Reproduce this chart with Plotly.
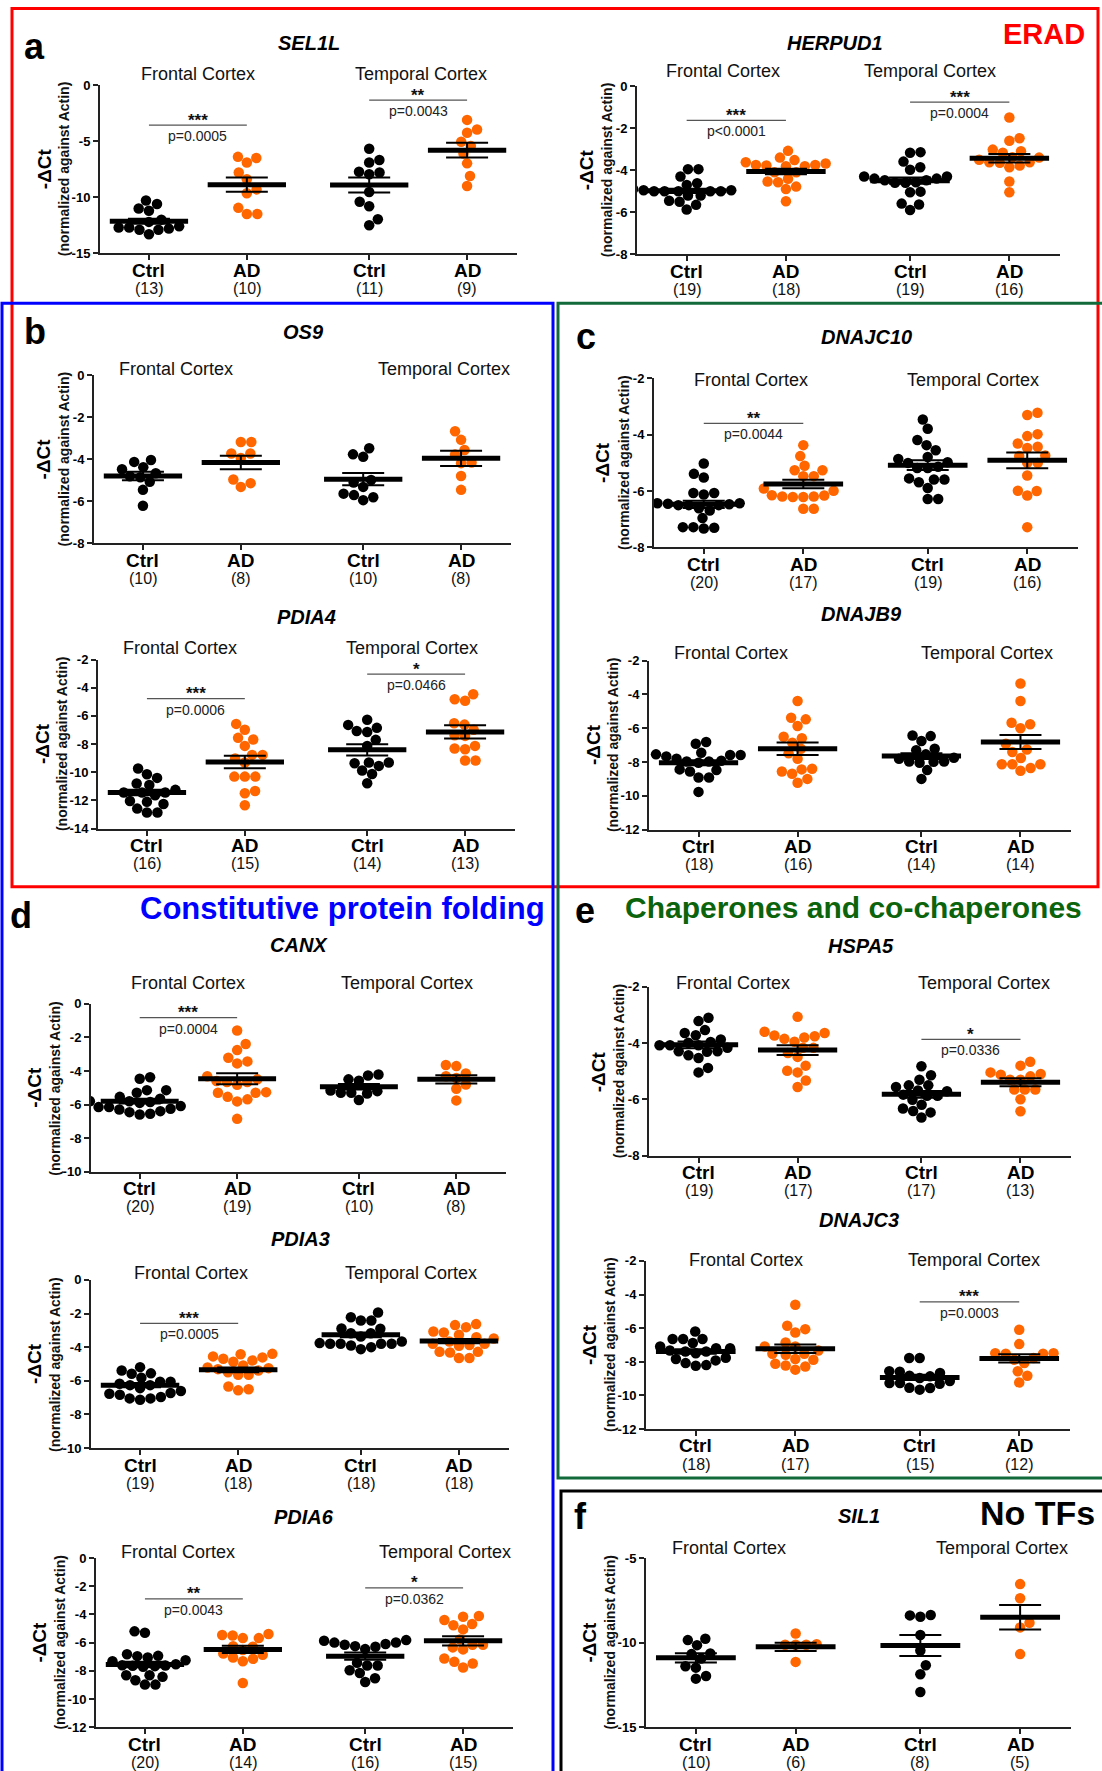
import plotly.graph_objects as go

W, H = 1102, 1771          # target picture size
PAGE_H = 1790              # figure height on the page
Y_OFF, Y_SCALE = 7.9, 0.991  # measured vertical mapping page -> picture
FONT = "Liberation Sans, Arial, Helvetica, sans-serif"

CATEGORIES = ["Ctrl", "AD", "Ctrl", "AD"]
REGIONS = ["Frontal Cortex", "Temporal Cortex"]
CAT_X = [0.0, 1.0, 2.25, 3.25]
X_RANGE = [-0.5, 3.76]
GROUP_COLORS = ["#000000", "#FF6600", "#000000", "#FF6600"]

# ---------------- data (-dCt values) ----------------
SEL1L_CTRL_FC = [-10.3, -10.6, -11.0, -11.2, -12.0, -12.2, -12.6, -12.7, -12.8, -12.9, -12.9, -12.7, -13.3]
SEL1L_AD_FC = [-6.4, -6.5, -6.9, -7.8, -8.4, -9.3, -9.65, -10.95, -11.5, -11.5]
SEL1L_CTRL_TC = [-5.67, -6.68, -6.9, -7.72, -7.8, -7.95, -9.53, -10.4, -10.8, -11.97, -12.5]
SEL1L_AD_TC = [-3.1, -3.95, -4.25, -5.05, -5.43, -6.1, -6.98, -8.1, -9.0]
SEL1L_MEAN = [-12.15, -8.88, -8.9, -5.8]
SEL1L_SEM = [0.22, 0.63, 0.67, 0.65]

HERPUD1_CTRL_FC = [-3.95, -3.95, -4.3, -4.62, -4.7, -4.95, -5.0, -5.0, -5.0, -5.0, -5.0, -4.95, -4.9, -5.2, -5.2, -5.5, -5.45, -5.65, -5.87]
HERPUD1_AD_FC = [-3.08, -3.52, -3.4, -3.75, -3.81, -3.78, -3.62, -3.81, -3.75, -3.68, -4.54, -4.78, -4.9, -4.57, -4.41, -5.48, -4.1, -4.1]
HERPUD1_CTRL_TC = [-3.17, -3.14, -3.59, -3.86, -3.98, -4.3, -4.4, -4.48, -4.48, -4.4, -4.3, -4.57, -4.6, -4.6, -5.05, -5.02, -5.59, -5.63, -5.89]
HERPUD1_AD_TC = [-1.49, -2.6, -2.48, -3.1, -3.02, -3.17, -3.38, -3.62, -3.78, -3.86, -3.65, -3.62, -3.4, -4.54, -5.05, -3.5]
HERPUD1_MEAN = [-4.98, -4.06, -4.5, -3.43]
HERPUD1_SEM = [0.1, 0.13, 0.15, 0.2]

OS9_CTRL_FC = [-4.03, -4.12, -4.37, -4.47, -4.66, -4.8, -4.85, -5.07, -5.45, -6.21]
OS9_AD_FC = [-3.17, -3.17, -3.72, -3.72, -3.93, -4.96, -5.13, -5.31]
OS9_CTRL_TC = [-3.47, -3.76, -3.88, -4.98, -5.1, -5.31, -5.63, -5.7, -5.8, -5.94]
OS9_AD_TC = [-2.66, -3.07, -3.55, -3.77, -4.15, -4.18, -4.79, -5.45]
OS9_MEAN = [-4.79, -4.15, -4.94, -3.95]
OS9_SEM = [0.2, 0.32, 0.29, 0.36]

DNAJC10_CTRL_FC = [-5.02, -5.39, -5.52, -6.07, -6.07, -6.12, -6.43, -6.43, -6.45, -6.47, -6.5, -6.5, -6.5, -6.61, -6.69, -6.96, -7.28, -7.28, -7.3, -7.33]
DNAJC10_AD_FC = [-4.37, -4.76, -5.1, -5.26, -5.26, -5.47, -5.47, -5.91, -5.99, -6.15, -6.16, -6.19, -6.19, -6.21, -6.21, -6.63, -6.63]
DNAJC10_CTRL_TC = [-3.46, -3.79, -4.19, -4.37, -4.55, -4.79, -4.86, -4.98, -5.0, -5.14, -5.18, -5.18, -5.55, -5.59, -5.59, -5.69, -5.89, -6.28, -6.28]
DNAJC10_AD_TC = [-3.22, -3.3, -3.98, -4.05, -4.31, -4.43, -4.47, -4.74, -4.76, -5.0, -5.0, -5.45, -5.99, -6.0, -6.16, -7.28]
DNAJC10_MEAN = [-6.47, -5.75, -5.08, -4.91]
DNAJC10_SEM = [0.13, 0.15, 0.17, 0.28]

PDIA4_CTRL_FC = [-9.74, -10.14, -10.4, -10.8, -10.9, -11.25, -11.44, -11.44, -11.44, -11.63, -12.04, -12.1, -12.25, -12.58, -12.86, -12.86]
PDIA4_AD_FC = [-6.57, -6.99, -7.56, -7.68, -8.13, -8.77, -8.77, -9.03, -9.31, -10.31, -10.31, -10.31, -11.33, -11.49, -12.34]
PDIA4_CTRL_TC = [-6.28, -6.64, -6.85, -7.07, -7.14, -7.7, -8.13, -9.31, -9.31, -9.36, -9.55, -9.88, -10.12, -10.78]
PDIA4_AD_TC = [-4.46, -4.82, -4.93, -6.52, -6.62, -6.99, -7.37, -7.42, -8.13, -8.32, -8.37, -9.17, -9.17]
PDIA4_MEAN = [-11.44, -9.27, -8.41, -7.14]
PDIA4_SEM = [0.2, 0.44, 0.4, 0.47]

DNAJB9_CTRL_FC = [-6.82, -6.92, -7.45, -7.55, -7.59, -7.59, -7.67, -7.81, -7.93, -7.97, -7.97, -8.05, -8.44, -8.48, -8.56, -8.92, -8.92, -9.77]
DNAJB9_AD_FC = [-4.39, -5.38, -5.48, -5.87, -6.51, -6.6, -6.86, -7.22, -7.49, -7.81, -8.4, -8.44, -8.56, -8.7, -9.0, -9.23]
DNAJB9_CTRL_TC = [-6.43, -6.47, -6.76, -7.22, -7.3, -7.55, -7.75, -7.81, -7.97, -7.97, -7.99, -8.05, -8.48, -9.0]
DNAJB9_AD_TC = [-3.36, -4.39, -5.68, -5.77, -6.01, -6.92, -7.26, -7.41, -7.77, -8.13, -8.13, -8.13, -8.36, -8.52]
DNAJB9_MEAN = [-8.05, -7.22, -7.65, -6.82]
DNAJB9_SEM = [0.15, 0.37, 0.17, 0.42]

CANX_CTRL_FC = [-4.37, -4.46, -5.14, -5.14, -5.3, -5.54, -5.65, -5.8, -5.8, -5.85, -5.9, -6.09, -6.15, -6.15, -6.25, -6.29, -6.39, -6.45, -6.55, -6.59]
CANX_AD_FC = [-1.59, -2.4, -2.76, -3.21, -3.43, -3.55, -4.31, -4.5, -4.6, -4.66, -4.66, -4.82, -5.26, -5.3, -5.3, -5.54, -5.69, -5.81, -6.85]
CANX_CTRL_TC = [-4.21, -4.27, -4.5, -4.58, -5.16, -5.2, -5.3, -5.3, -5.34, -5.73]
CANX_AD_TC = [-3.65, -3.71, -4.15, -4.31, -4.42, -4.8, -5.06, -5.75]
CANX_MEAN = [-5.8, -4.46, -4.94, -4.5]
CANX_SEM = [0.14, 0.33, 0.16, 0.24]

HSPA5_CTRL_FC = [-3.1, -3.22, -3.54, -3.64, -3.72, -3.87, -3.96, -3.99, -4.08, -4.08, -4.08, -4.17, -4.29, -4.29, -4.31, -4.43, -4.53, -4.88, -5.04]
HSPA5_AD_FC = [-3.07, -3.6, -3.64, -3.73, -3.76, -3.8, -3.85, -3.95, -4.17, -4.17, -4.35, -4.49, -4.8, -4.98, -5.04, -5.33, -5.56]
HSPA5_CTRL_TC = [-4.82, -5.14, -5.3, -5.5, -5.5, -5.56, -5.68, -5.71, -5.83, -5.87, -5.87, -6.01, -6.19, -6.32, -6.41, -6.46, -6.64]
HSPA5_AD_TC = [-4.66, -4.8, -5.04, -5.1, -5.12, -5.18, -5.3, -5.3, -5.65, -5.65, -5.65, -5.99, -6.42]
HSPA5_MEAN = [-4.06, -4.25, -5.82, -5.39]
HSPA5_SEM = [0.12, 0.17, 0.12, 0.14]

PDIA3_CTRL_FC = [-5.19, -5.39, -5.56, -5.58, -5.82, -6.06, -6.06, -6.18, -6.26, -6.26, -6.44, -6.61, -6.73, -6.77, -6.83, -6.97, -7.05, -7.05, -7.13]
PDIA3_AD_FC = [-4.4, -4.42, -4.55, -4.61, -4.69, -4.79, -4.87, -5.09, -5.21, -5.25, -5.31, -5.39, -5.5, -5.64, -5.64, -6.34, -6.5, -6.57]
PDIA3_CTRL_TC = [-1.94, -2.22, -2.42, -2.42, -2.89, -2.91, -3.17, -3.17, -3.37, -3.66, -3.76, -3.8, -3.8, -3.8, -3.8, -3.9, -4.0, -4.12]
PDIA3_AD_TC = [-2.63, -2.69, -2.81, -3.07, -3.13, -3.27, -3.41, -3.49, -3.66, -3.8, -3.8, -3.88, -3.92, -4.28, -4.28, -4.32, -4.65, -4.65]
PDIA3_MEAN = [-6.26, -5.35, -3.27, -3.64]
PDIA3_SEM = [0.12, 0.14, 0.14, 0.13]

DNAJC3_CTRL_FC = [-6.2, -6.65, -6.65, -6.65, -6.89, -7.09, -7.19, -7.19, -7.33, -7.39, -7.39, -7.49, -7.76, -7.84, -7.92, -8.08, -8.2, -8.24]
DNAJC3_AD_FC = [-4.61, -5.86, -6.06, -6.26, -6.85, -7.09, -7.09, -7.33, -7.52, -7.52, -7.58, -7.84, -7.88, -8.12, -8.22, -8.28, -8.47]
DNAJC3_CTRL_TC = [-7.78, -7.78, -8.57, -8.59, -8.67, -8.83, -8.87, -8.97, -9.15, -9.27, -9.27, -9.31, -9.55, -9.56, -9.66]
DNAJC3_AD_TC = [-6.1, -6.95, -7.49, -7.49, -7.52, -7.52, -7.78, -7.88, -8.08, -8.57, -8.83, -9.23]
DNAJC3_MEAN = [-7.39, -7.23, -8.93, -7.8]
DNAJC3_SEM = [0.13, 0.25, 0.15, 0.24]

PDIA6_CTRL_FC = [-5.2, -5.3, -6.82, -6.94, -6.96, -7.05, -7.25, -7.32, -7.53, -7.6, -7.62, -7.65, -7.67, -7.72, -8.31, -8.31, -8.43, -8.67, -8.98, -8.98]
PDIA6_AD_FC = [-5.39, -5.46, -5.49, -5.68, -5.68, -6.25, -6.29, -6.53, -6.77, -6.86, -7.05, -7.15, -7.32, -8.86]
PDIA6_CTRL_TC = [-5.82, -5.87, -5.99, -6.0, -6.1, -6.15, -6.25, -6.29, -6.46, -7.43, -7.62, -7.62, -7.96, -8.15, -8.53, -8.79]
PDIA6_AD_TC = [-4.11, -4.16, -4.39, -4.68, -4.77, -5.06, -5.77, -6.15, -6.15, -6.34, -6.48, -7.13, -7.36, -7.48, -7.77]
PDIA6_MEAN = [-7.55, -6.48, -6.96, -5.87]
PDIA6_SEM = [0.2, 0.25, 0.26, 0.33]

SIL1_CTRL_FC = [-9.77, -9.85, -10.15, -10.64, -10.68, -10.94, -11.4, -11.48, -11.97, -12.13]
SIL1_AD_FC = [-9.46, -10.09, -10.13, -10.13, -10.13, -11.14]
SIL1_CTRL_TC = [-8.37, -8.39, -8.47, -9.55, -10.47, -11.34, -11.87, -12.92]
SIL1_AD_TC = [-6.54, -7.38, -8.82, -9.1, -10.68]
SIL1_MEAN = [-10.9, -10.25, -10.17, -8.5]
SIL1_SEM = [0.27, 0.24, 0.62, 0.72]

# ---------------- layout of the panels (pixel geometry in picture px) ----------------
PANELS = [
    dict(gene="SEL1L", groups=[SEL1L_CTRL_FC, SEL1L_AD_FC, SEL1L_CTRL_TC, SEL1L_AD_TC], mean=SEL1L_MEAN, sem=SEL1L_SEM,
         yr=(-15, 0), dt=5, box=(100, 517, 86, 254), title=(309, 44), reg=(0.5, 2.78, 75),
         sig=[(0, -3.56, "***", "p=0.0005"), (1, -1.34, "**", "p=0.0043")]),
    dict(gene="HERPUD1", groups=[HERPUD1_CTRL_FC, HERPUD1_AD_FC, HERPUD1_CTRL_TC, HERPUD1_AD_TC], mean=HERPUD1_MEAN, sem=HERPUD1_SEM,
         yr=(-8, 0), dt=2, box=(637, 1060, 87, 255), title=(835, 44), reg=(0.37, 2.45, 72),
         sig=[(0, -1.63, "***", "p<0.0001"), (1, -0.76, "***", "p=0.0004")]),
    dict(gene="OS9", groups=[OS9_CTRL_FC, OS9_AD_FC, OS9_CTRL_TC, OS9_AD_TC], mean=OS9_MEAN, sem=OS9_SEM,
         yr=(-8, 0), dt=2, box=(94, 511, 376, 544), title=(303, 333), reg=(0.34, 3.08, 370), sig=[]),
    dict(gene="DNAJC10", groups=[DNAJC10_CTRL_FC, DNAJC10_AD_FC, DNAJC10_CTRL_TC, DNAJC10_AD_TC], mean=DNAJC10_MEAN, sem=DNAJC10_SEM,
         yr=(-8, -2), dt=2, box=(654, 1078, 379, 548), title=(866, 338), reg=(0.47, 2.7, 381),
         sig=[(0, -3.6, "**", "p=0.0044")]),
    dict(gene="PDIA4", groups=[PDIA4_CTRL_FC, PDIA4_AD_FC, PDIA4_CTRL_TC, PDIA4_AD_TC], mean=PDIA4_MEAN, sem=PDIA4_SEM,
         yr=(-14, -2), dt=2, box=(98, 515, 660, 829), title=(306, 618), reg=(0.34, 2.71, 648),
         sig=[(0, -4.77, "***", "p=0.0006"), (1, -3.04, "*", "p=0.0466")]),
    dict(gene="DNAJB9", groups=[DNAJB9_CTRL_FC, DNAJB9_AD_FC, DNAJB9_CTRL_TC, DNAJB9_AD_TC], mean=DNAJB9_MEAN, sem=DNAJB9_SEM,
         yr=(-12, -2), dt=2, box=(649, 1071, 661, 830), title=(861, 615), reg=(0.33, 2.91, 653), sig=[]),
    dict(gene="CANX", groups=[CANX_CTRL_FC, CANX_AD_FC, CANX_CTRL_TC, CANX_AD_TC], mean=CANX_MEAN, sem=CANX_SEM,
         yr=(-10, 0), dt=2, box=(91, 506, 1004, 1172), title=(299, 945), reg=(0.5, 2.74, 983),
         sig=[(0, -0.83, "***", "p=0.0004")]),
    dict(gene="HSPA5", groups=[HSPA5_CTRL_FC, HSPA5_AD_FC, HSPA5_CTRL_TC, HSPA5_AD_TC], mean=HSPA5_MEAN, sem=HSPA5_SEM,
         yr=(-8, -2), dt=2, box=(649, 1071, 987, 1156), title=(861, 946), reg=(0.35, 2.88, 983),
         sig=[(1, -3.87, "*", "p=0.0336")]),
    dict(gene="PDIA3", groups=[PDIA3_CTRL_FC, PDIA3_AD_FC, PDIA3_CTRL_TC, PDIA3_AD_TC], mean=PDIA3_MEAN, sem=PDIA3_SEM,
         yr=(-10, 0), dt=2, box=(91, 509, 1280, 1448), title=(300, 1239), reg=(0.52, 2.76, 1273),
         sig=[(0, -2.59, "***", "p=0.0005")]),
    dict(gene="DNAJC3", groups=[DNAJC3_CTRL_FC, DNAJC3_AD_FC, DNAJC3_CTRL_TC, DNAJC3_AD_TC], mean=DNAJC3_MEAN, sem=DNAJC3_SEM,
         yr=(-12, -2), dt=2, box=(646, 1070, 1261, 1429), title=(859, 1220), reg=(0.5, 2.8, 1260),
         sig=[(1, -4.44, "***", "p=0.0003")]),
    dict(gene="PDIA6", groups=[PDIA6_CTRL_FC, PDIA6_AD_FC, PDIA6_CTRL_TC, PDIA6_AD_TC], mean=PDIA6_MEAN, sem=PDIA6_SEM,
         yr=(-12, 0), dt=2, box=(96, 513, 1558, 1727), title=(304, 1517), reg=(0.34, 3.07, 1552),
         sig=[(0, -2.9, "**", "p=0.0043"), (1, -2.11, "*", "p=0.0362")]),
    dict(gene="SIL1", groups=[SIL1_CTRL_FC, SIL1_AD_FC, SIL1_CTRL_TC, SIL1_AD_TC], mean=SIL1_MEAN, sem=SIL1_SEM,
         yr=(-15, -5), dt=5, box=(646, 1071, 1558, 1727), title=(859, 1516), reg=(0.33, 3.07, 1548), sig=[]),
]

LETTERS = [("a", 34, 47), ("b", 35, 332), ("c", 586, 337), ("d", 21, 916), ("e", 585, 911), ("f", 580, 1516)]

MARKER_D = 10.5
MEAN_HALF = 0.4


def px(x):
    return x / W


def page_y(y):
    return (y - Y_OFF) / Y_SCALE


def py(y):
    return 1 - page_y(y) / PAGE_H


def swarm(vals, ppu, spx, d=MARKER_D):
    """Greedy beeswarm: horizontal offsets (data units) so dots don't overlap."""
    order = sorted(range(len(vals)), key=lambda i: vals[i])
    placed = []
    offs = [0.0] * len(vals)
    flip = 1
    for i in order:
        y = vals[i] * ppu
        cands = [0.0]
        for (qx, qy) in placed:
            dy = abs(qy - y)
            if dy < d:
                dx = (d * d - dy * dy) ** 0.5
                cands += [qx + dx, qx - dx]
        cands.sort(key=lambda c: (round(abs(c), 3), -flip * c))
        for c in cands:
            if all((c - qx) ** 2 + (y - qy) ** 2 >= d * d - 1e-6 for qx, qy in placed):
                offs[i] = c
                break
        if offs[i] != 0:
            flip = -flip
        placed.append((offs[i], y))
    return [o / spx for o in offs]


fig = go.Figure()
annotations = []
shapes = []
layout_axes = {}

for k, p in enumerate(PANELS, start=1):
    xa = "x" if k == 1 else f"x{k}"
    ya = "y" if k == 1 else f"y{k}"
    L, R, T, B = p["box"]
    ymin, ymax = p["yr"]
    ppu = (B - T) / (ymax - ymin)
    spx = (R - L) / (X_RANGE[1] - X_RANGE[0])

    for g, vals in enumerate(p["groups"]):
        offs = swarm(vals, ppu, spx)
        fig.add_trace(go.Scatter(
            x=[CAT_X[g] + o for o in offs], y=vals, xaxis=xa, yaxis=ya, mode="markers",
            marker=dict(size=MARKER_D, color=GROUP_COLORS[g], line=dict(width=0)),
            hoverinfo="y", showlegend=False))
    for g in range(4):
        m = p["mean"][g]
        fig.add_trace(go.Scatter(
            x=[CAT_X[g] - MEAN_HALF, CAT_X[g] + MEAN_HALF], y=[m, m], xaxis=xa, yaxis=ya,
            mode="lines", line=dict(color="#000000", width=5), hoverinfo="skip", showlegend=False))
        fig.add_trace(go.Scatter(
            x=[CAT_X[g]], y=[m], xaxis=xa, yaxis=ya, mode="markers",
            marker=dict(size=1, color="rgba(0,0,0,0)"),
            error_y=dict(type="data", array=[p["sem"][g]], width=21, thickness=2, color="#000000"),
            hoverinfo="skip", showlegend=False))

    ticks = list(range(int(ymin), int(ymax) + 1, p["dt"]))
    ticktext = ["%g" % t for t in ticks]
    layout_axes["xaxis" if k == 1 else f"xaxis{k}"] = dict(
        domain=[px(L), px(R)], anchor=ya, range=X_RANGE, showgrid=False, zeroline=False,
        showline=True, linecolor="#222222", linewidth=2, ticks="outside", ticklen=5, tickwidth=2,
        tickcolor="#222222", tickvals=CAT_X, showticklabels=False, fixedrange=True)
    layout_axes["yaxis" if k == 1 else f"yaxis{k}"] = dict(
        domain=[py(B), py(T)], anchor=xa, range=[ymin, ymax], showgrid=False, zeroline=False,
        showline=True, linecolor="#222222", linewidth=2, ticks="outside", ticklen=5, tickwidth=2,
        tickcolor="#222222", tickvals=ticks, ticktext=ticktext,
        tickfont=dict(family=FONT, size=13, color="#000000", weight="bold"), fixedrange=True)

    for g, vals in enumerate(p["groups"]):
        annotations.append(dict(text=f"<b>{CATEGORIES[g]}</b>", x=CAT_X[g], xref=xa, y=py(B + 17), yref="paper",
                                showarrow=False, xanchor="center", yanchor="middle",
                                font=dict(family=FONT, size=19, color="#000000")))
        annotations.append(dict(text=f"({len(vals)})", x=CAT_X[g], xref=xa, y=py(B + 35), yref="paper",
                                showarrow=False, xanchor="center", yanchor="middle",
                                font=dict(family=FONT, size=16, color="#111111")))
    annotations.append(dict(text=f"<b><i>{p['gene']}</i></b>", x=px(p["title"][0]), y=py(p["title"][1]),
                            xref="paper", yref="paper", showarrow=False, xanchor="center", yanchor="middle",
                            font=dict(family=FONT, size=20, color="#000000")))
    fx, tx, ry = p["reg"]
    for rx, rtext in zip([fx, tx], REGIONS):
        annotations.append(dict(text=rtext, x=rx, xref=xa, y=py(ry), yref="paper", showarrow=False,
                                xanchor="center", yanchor="middle",
                                font=dict(family=FONT, size=18, color="#111111")))
    wide = max(len(t) for t in ticktext) >= 3
    d1, d2 = (56, 36) if wide else (51, 30)
    cy = py((T + B) / 2)
    annotations.append(dict(text="<b>-ΔCt</b>", x=px(L - d1), y=cy, xref="paper", yref="paper",
                            showarrow=False, textangle=-90, xanchor="center", yanchor="middle",
                            font=dict(family=FONT, size=19, color="#000000")))
    annotations.append(dict(text="<b>(normalized against Actin)</b>", x=px(L - d2), y=cy, xref="paper",
                            yref="paper", showarrow=False, textangle=-90, xanchor="center", yanchor="middle",
                            font=dict(family=FONT, size=14, color="#111111")))
    for region, yline, stars, ptxt in p["sig"]:
        x0, x1 = CAT_X[2 * region], CAT_X[2 * region + 1]
        shapes.append(dict(type="line", xref=xa, yref=ya, x0=x0, x1=x1, y0=yline, y1=yline,
                           line=dict(color="#555555", width=1.2)))
        annotations.append(dict(text=f"<b>{stars}</b>", x=(x0 + x1) / 2, y=yline, xref=xa, yref=ya,
                                showarrow=False, xanchor="center", yanchor="middle", yshift=5,
                                font=dict(family=FONT, size=17, color="#111111")))
        annotations.append(dict(text=ptxt, x=(x0 + x1) / 2, y=yline, xref=xa, yref=ya,
                                showarrow=False, xanchor="center", yanchor="middle", yshift=-11,
                                font=dict(family=FONT, size=14, color="#222222")))

for letter, lx, ly in LETTERS:
    annotations.append(dict(text=f"<b>{letter}</b>", x=px(lx), y=py(ly), xref="paper", yref="paper",
                            showarrow=False, xanchor="center", yanchor="middle",
                            font=dict(family=FONT, size=36, color="#000000")))

annotations.append(dict(text="<b>ERAD</b>", x=px(1044), y=py(35), xref="paper", yref="paper", showarrow=False,
                        xanchor="center", yanchor="middle", font=dict(family=FONT, size=29, color="#FF0000")))
annotations.append(dict(text="<b>Constitutive protein folding</b>", x=px(342), y=py(909), xref="paper",
                        yref="paper", showarrow=False, xanchor="center", yanchor="middle",
                        font=dict(family=FONT, size=31, color="#0000FF")))
annotations.append(dict(text="<b>Chaperones and co-chaperones</b>", x=px(623), y=py(908), xref="paper",
                        yref="paper", showarrow=False, xanchor="left", yanchor="middle",
                        font=dict(family=FONT, size=30, color="#0B640B")))
annotations.append(dict(text="<b>No TFs</b>", x=px(1037), y=py(1513), xref="paper", yref="paper",
                        showarrow=False, xanchor="center", yanchor="middle",
                        font=dict(family=FONT, size=34, color="#000000")))

BOXES = [
    ("#FF0000", 12, 9.5, 1098, 887),
    ("#0000FF", 2, 304, 553, 1800),
    ("#12693A", 558, 304, 1120, 1478),
    ("#000000", 561, 1491, 1120, 1800),
]
for color, x0, y0, x1, y1 in BOXES:
    shapes.append(dict(type="rect", xref="paper", yref="paper", x0=px(x0), x1=px(x1), y0=py(y0), y1=py(y1),
                       line=dict(color=color, width=3), fillcolor="rgba(0,0,0,0)", layer="above"))

fig.update_layout(
    width=W, height=PAGE_H, margin=dict(l=0, r=0, t=0, b=0),
    paper_bgcolor="#FFFFFF", plot_bgcolor="rgba(0,0,0,0)",
    showlegend=False, annotations=annotations, shapes=shapes,
    font=dict(family=FONT), **layout_axes)

POST = ("document.documentElement.style.margin='0px';document.documentElement.style.padding='0px';"
        "document.body.style.margin='0px';document.body.style.padding='0px';"
        "document.body.style.overflow='hidden';"
        "var gd=document.getElementsByClassName('plotly-graph-div')[0];"
        "gd.style.position='fixed';gd.style.top='0px';gd.style.left='0px';")
fig.write_html("out.html", config={"displayModeBar": False}, post_script=POST)
